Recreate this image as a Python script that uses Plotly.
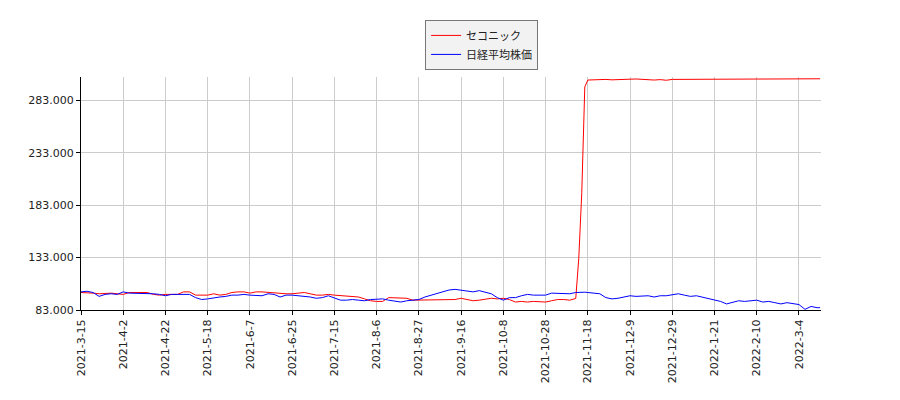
import plotly.graph_objects as go

# trading-day positions (0 = 2021-3-15)
day_index = list(range(0, 164, 2)) + [164, 165, 166, 167, 168] + list(range(170, 245, 2)) + [245]

tick_days = list(range(0, 239, 14))
tick_labels = ["2021-3-15", "2021-4-2", "2021-4-22", "2021-5-18", "2021-6-7", "2021-6-25",
               "2021-7-15", "2021-8-6", "2021-8-27", "2021-9-16", "2021-10-8", "2021-10-28",
               "2021-11-18", "2021-12-9", "2021-12-29", "2022-1-21", "2022-2-10", "2022-3-4"]

y_ticks = [83, 133, 183, 233, 283]
y_labels = ["83.000", "133.000", "183.000", "233.000", "283.000"]

sekonic = [
    99.7, 99.7, 99.1, 98.5, 99.1, 99.1, 98.5, 97.9, 99.7, 99.7,
    100.3, 99.7, 97.9, 97.2, 97.9, 97.9, 97.9, 100.3, 100.3, 97.2,
    97.2, 97.2, 98.5, 97.2, 97.9, 99.7, 100.3, 100.3, 99.1, 100.3,
    100.3, 99.7, 99.7, 99.1, 98.5, 98.5, 99.1, 99.7, 98.5, 97.2,
    97.2, 97.9, 97.2, 96.6, 96.0, 96.0, 95.4, 93.6, 91.8, 91.2,
    91.2, 94.8, 94.8, 94.8, 94.2, 92.4, 92.4, 92.4, 93.0, 93.0,
    93.0, 93.0, 93.0, 94.2, 93.0, 91.8, 92.4, 93.0, 94.2, 93.6,
    94.2, 93.0, 90.6, 91.2, 90.6, 91.2, 90.6, 90.6, 91.8, 93.0,
    93.0, 92.4,
    94.0, 132.0, 195.0, 296.0, 302.6,
    303.0, 303.2, 303.2, 302.8, 303.2, 303.6, 303.4, 303.6, 303.2, 302.6,
    302.6, 303.0, 302.4,
    303.2, 303.2, 303.2, 303.2, 303.2, 303.2, 303.2, 303.2, 303.2, 303.2,
    303.2, 303.2, 303.2, 303.2, 303.2, 303.2, 303.2, 303.2, 303.2, 303.2,
    303.2, 303.2, 303.2, 303.2, 303.2,
    303.8,
]

nikkei = [
    100.3, 100.9, 99.7, 96.0, 97.9, 98.5, 97.9, 100.3, 99.1, 99.1,
    99.1, 99.1, 98.5, 97.9, 96.6, 97.9, 97.9, 97.9, 97.9, 94.8,
    93.0, 93.6, 94.8, 95.4, 96.0, 97.2, 97.2, 97.9, 97.2, 96.6,
    96.6, 98.5, 97.9, 95.4, 97.2, 97.2, 96.6, 96.6, 95.4, 94.2,
    94.8, 96.6, 94.8, 92.4, 92.4, 93.0, 92.4, 91.8, 93.0, 93.6,
    93.6, 92.4, 91.8, 90.6, 91.8, 92.4, 93.0, 95.4, 97.2, 98.5,
    100.9, 102.1, 102.7, 102.1, 101.5, 100.3, 101.5, 100.3, 98.5, 94.8,
    92.4, 94.8, 94.8, 96.6, 97.9, 97.2, 97.2, 97.2, 99.1, 99.1,
    98.5, 98.5,
    99.7, 100.0, 100.3, 100.0, 99.7,
    99.1, 98.5, 94.8, 93.6, 94.2, 95.4, 96.6, 96.0, 96.0, 96.6,
    95.4, 96.6, 96.6, 97.2, 98.5, 97.2, 96.0, 96.6, 95.4, 93.6,
    93.0, 91.2, 88.8, 90.6, 91.8, 91.2, 91.8, 92.4, 90.6, 91.2,
    90.0, 88.8, 90.0, 88.8, 88.2, 83.6, 86.4, 85.2,
    85.2,
]

fig = go.Figure()
fig.add_trace(go.Scatter(x=day_index, y=sekonic, mode="lines", name="セコニック",
                         line=dict(color="#ff0000", width=1)))
fig.add_trace(go.Scatter(x=day_index, y=nikkei, mode="lines", name="日経平均株価",
                         line=dict(color="#0000ff", width=1)))

# the page adds an 8px body margin, so margins are trimmed to match the reference
fig.update_layout(
    width=900, height=400,
    margin=dict(l=73, r=87, t=62, b=98),
    paper_bgcolor="white", plot_bgcolor="white",
    font=dict(family="DejaVu Sans", size=11, color="#222"),
    showlegend=True,
    legend=dict(x=0.465, y=1.245, xanchor="left", yanchor="top",
                bgcolor="#f2f2f2", bordercolor="#777", borderwidth=1,
                font=dict(family="Noto Sans CJK JP", size=11, color="#222"),
                tracegroupgap=0, itemwidth=30),
)
fig.update_xaxes(range=[0, 245.3], tickmode="array", tickvals=tick_days, ticktext=tick_labels,
                 tickangle=-90, tickfont=dict(size=11), showgrid=True, gridcolor="#cccccc",
                 gridwidth=1, showline=True, linecolor="black", linewidth=1,
                 ticks="outside", ticklen=4, tickcolor="black", zeroline=False)
fig.update_yaxes(range=[83, 305.5], tickmode="array", tickvals=y_ticks, ticktext=y_labels,
                 tickfont=dict(size=11), showgrid=True, gridcolor="#cccccc", gridwidth=1,
                 showline=True, linecolor="black", linewidth=1,
                 ticks="outside", ticklen=4, tickcolor="black", zeroline=False)

fig.write_html("out.html")
